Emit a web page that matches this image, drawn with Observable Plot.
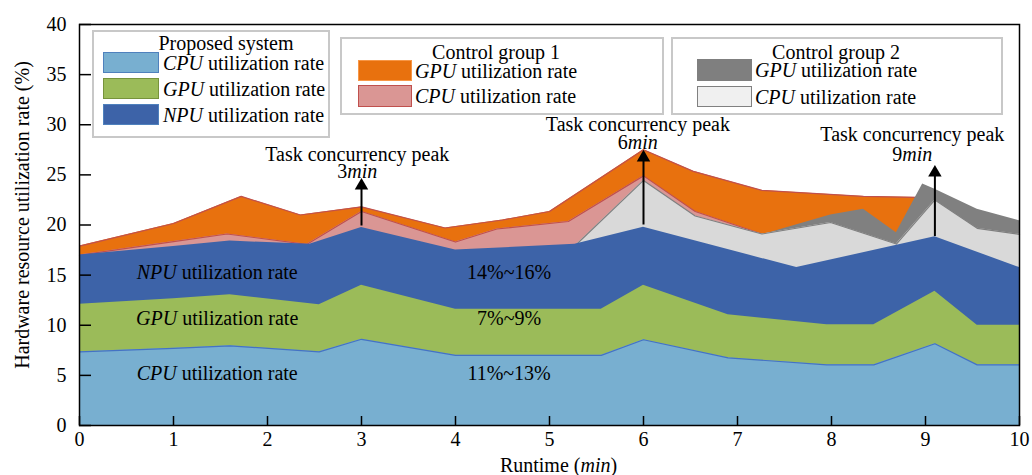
<!DOCTYPE html>
<html>
<head>
<meta charset="utf-8">
<script src="https://cdn.jsdelivr.net/npm/d3@7"></script>
<script src="https://cdn.jsdelivr.net/npm/@observablehq/plot@0.6"></script>
<style>
  html, body { margin: 0; padding: 0; background: white; }
  #wrap { position: relative; width: 1032px; height: 475px; font-family: "Liberation Serif", "Times New Roman", serif; color: #000; }
  .box { position: absolute; border: 2px solid #c8c8c8; box-sizing: border-box; background: white; }
  .lt { position: absolute; font-size: 20px; line-height: 22px; white-space: nowrap; }
  .sw { position: absolute; box-sizing: border-box; }
</style>
</head>
<body>
<div id="wrap"></div>
<script>
// ---- data (top boundary of each layer, %) ----
const xTicks = [0,1,2,3,4,5,6,7,8,9,10];
const yTicks = [0,5,10,15,20,25,30,35,40];

// Proposed system (stacked tops)
const cpuX = [0, 1, 1.6, 2.55, 3, 4, 5.55, 6, 6.9, 7.95, 8.45, 9.1, 9.55, 10];
const cpuTop = [7.35, 7.7, 7.95, 7.35, 8.6, 7.0, 7.0, 8.55, 6.75, 6.05, 6.05, 8.15, 6.05, 6.05];
const gpuX = [0, 1, 1.6, 2.55, 3, 4, 5.55, 6, 6.9, 7.95, 8.45, 9.1, 9.55, 10];
const gpuTop = [12.1, 12.65, 13.05, 12.05, 14.0, 11.6, 11.6, 14.0, 11.05, 10.05, 10.05, 13.4, 10.0, 10.0];
const npuX = [0, 1, 1.6, 2.45, 3, 4, 5.27, 6, 7.63, 9.1, 10];
const npuTop = [17.0, 17.85, 18.4, 18.07, 19.75, 17.5, 18.07, 19.77, 15.75, 18.83, 15.75];

// Control group 1
const cg1CpuX = [0, 1, 1.57, 2.42, 3, 4, 4.44, 5.2, 6, 6.55, 7.26];
const cg1CpuTop = [17.0, 18.35, 19.1, 18.07, 21.35, 18.3, 19.6, 20.35, 24.9, 21.35, 19.1];
const cg1GpuX = [0, 1, 1.72, 2.35, 3, 3.89, 4.5, 5.0, 6, 6.53, 7.26, 8.34, 8.91];
const cg1GpuTop = [17.9, 20.15, 22.85, 21.0, 21.8, 19.7, 20.5, 21.35, 27.5, 25.35, 23.45, 22.85, 22.75];

// Control group 2
const cg2CpuX = [5.28, 6, 6.55, 7.26, 7.99, 8.69, 9.1, 9.55, 10];
const cg2CpuTop = [18.0, 24.45, 20.9, 19.1, 20.25, 18.1, 22.5, 19.67, 19.07];
const cg2GpuX = [7.26, 7.99, 8.34, 8.69, 8.97, 9.1, 9.55, 10];
const cg2GpuTop = [19.0, 21.0, 21.57, 19.23, 24.1, 23.57, 21.57, 20.43];

// Peaks
const peakX = [3, 6, 9.1];
const peakFrom = [19.9, 20.0, 18.85];
const peakTo = [24.7, 27.5, 26.0];
const peakLabelX = [2.955, 5.94, 8.86];
const peakTitleY = [27.05, 30.0, 29.0];
const peakTimeY = [25.35, 28.2, 27.05];
const peakTime = ["3min", "6min", "9min"];

// In-area labels
const layerNames = ["NPU utilization rate", "GPU utilization rate", "CPU utilization rate"];
const layerRanges = ["14%~16%", "7%~9%", "11%~13%"];
const layerLabelY = [15.3, 10.7, 5.2];
const nameX = 1.465, rangeX = 4.57;

const colors = {
  cpu: "#78afd0", gpu: "#9bbb59", npu: "#3d63a8",
  cg1Gpu: "#e8710e", cg1Cpu: "#da9694", cg2Gpu: "#808080", cg2Cpu: "#d9d9d9"
};

const zip = (xs, ys) => xs.map((x, i) => ({x, y: ys[i]}));
const peaks = peakX.map((x, i) => ({x, from: peakFrom[i], to: peakTo[i], lx: peakLabelX[i], ty: peakTitleY[i], my: peakTimeY[i], t: peakTime[i]}));
const labels = layerNames.map((n, i) => ({n, r: layerRanges[i], y: layerLabelY[i]}));

const plot = Plot.plot({
  width: 1032, height: 475,
  marginLeft: 79, marginRight: 13, marginTop: 24, marginBottom: 50,
  x: {domain: [0, 10]},
  y: {domain: [0, 40]},
  style: {fontFamily: "Liberation Serif, Times New Roman, serif", fontSize: "20px", color: "black", background: "white"},
  marks: [
    Plot.areaY(zip(cg1GpuX, cg1GpuTop), {x: "x", y: "y", fill: colors.cg1Gpu}),
    Plot.lineY(zip(cg1GpuX, cg1GpuTop), {x: "x", y: "y", stroke: "#c0504d", strokeWidth: 1.2}),
    Plot.areaY(zip(cg1CpuX, cg1CpuTop), {x: "x", y: "y", fill: colors.cg1Cpu}),
    Plot.lineY(zip(cg1CpuX, cg1CpuTop), {x: "x", y: "y", stroke: "#c0504d", strokeWidth: 1.2}),
    Plot.areaY(zip(cg2GpuX, cg2GpuTop), {x: "x", y: "y", fill: colors.cg2Gpu}),
    Plot.areaY(zip(cg2CpuX, cg2CpuTop), {x: "x", y: "y", fill: colors.cg2Cpu}),
    Plot.lineY(zip(cg2CpuX, cg2CpuTop), {x: "x", y: "y", stroke: "#7f7f7f", strokeWidth: 1.2}),
    Plot.areaY(zip(npuX, npuTop), {x: "x", y: "y", fill: colors.npu}),
    Plot.areaY(zip(gpuX, gpuTop), {x: "x", y: "y", fill: colors.gpu}),
    Plot.areaY(zip(cpuX, cpuTop), {x: "x", y: "y", fill: colors.cpu}),
    Plot.lineY(zip(cpuX, cpuTop), {x: "x", y: "y", stroke: "#4472c4", strokeWidth: 1.2}),
    // peak arrows
    Plot.ruleX(peaks, {x: "x", y1: "from", y2: d => d.to - 0.8, stroke: "black", strokeWidth: 2}),
    Plot.dot(peaks, {x: "x", y: d => d.to - 0.78, symbol: "triangle", r: 5, fill: "black", stroke: "none"}),
    Plot.text(peaks, {x: "lx", y: "ty", text: () => "Task concurrency peak", fill: "black", fontSize: 20, lineAnchor: "middle"}),
    Plot.text(peaks, {x: "lx", y: "my", text: "t", fill: "black", fontSize: 20, lineAnchor: "middle"}),
    // layer labels
    Plot.text(labels, {x: () => nameX, y: "y", text: "n", fill: "black", fontSize: 20, lineAnchor: "middle"}),
    Plot.text(labels, {x: () => rangeX, y: "y", text: "r", fill: "black", fontSize: 20, lineAnchor: "middle"}),
    // axes
    Plot.axisY({ticks: yTicks, tickSize: 0, tickPadding: 13, label: null, fontSize: 20}),
    Plot.axisY({ticks: yTicks, tickSize: -12, tickFormat: () => "", label: null, strokeWidth: 1.5}),
    Plot.axisX({ticks: xTicks, tickSize: 0, tickPadding: 6, label: null, fontSize: 20}),
    Plot.axisX({ticks: xTicks, tickSize: -9, tickFormat: () => "", label: null, strokeWidth: 1.5}),
    Plot.frame({stroke: "black", strokeWidth: 1.5}),
    Plot.text(["Runtime (min)"], {frameAnchor: "bottom", dx: 9, dy: 40, lineAnchor: "middle", textAnchor: "middle", fill: "black", fontSize: 20}),
    Plot.text(["Hardware resource utilization rate (%)"], {frameAnchor: "left", rotate: -90, dx: -57, dy: -10, lineAnchor: "middle", textAnchor: "middle", fill: "black", fontSize: 20})
  ]
});

// italicize variable names
function italicize(svg) {
  svg.querySelectorAll("text").forEach(t => {
    [...t.childNodes].filter(n => n.nodeType === 3).forEach(node => {
      const parts = node.textContent.split(/(CPU|GPU|NPU|min(?=\)|$))/);
      if (parts.length === 1) return;
      const frag = document.createDocumentFragment();
      parts.forEach(p => {
        if (!p) return;
        const ts = document.createElementNS("http://www.w3.org/2000/svg", "tspan");
        ts.textContent = p;
        if (/^(CPU|GPU|NPU|min)$/.test(p)) ts.setAttribute("font-style", "italic");
        frag.appendChild(ts);
      });
      node.replaceWith(frag);
    });
  });
}
italicize(plot);

const wrap = document.getElementById("wrap");
wrap.appendChild(plot);

// ---- legends (HTML overlay) ----
const legends = [
  {box: [92, 30, 238, 108], title: "Proposed system", tcx: 226, tcy: 42.5, swx: 103, sww: 56, labx: 163,
   items: [
     {k: "CPU", fill: colors.cpu, border: "#4f81bd", top: 52, h: 21, cy: 62.5},
     {k: "GPU", fill: colors.gpu, border: "#77933c", top: 78, h: 21, cy: 88.5},
     {k: "NPU", fill: colors.npu, border: "#4f81bd", top: 104, h: 21, cy: 115}
   ]},
  {box: [340, 37, 324, 78], title: "Control group 1", tcx: 496, tcy: 51.5, swx: 358, sww: 54, labx: 415,
   items: [
     {k: "GPU", fill: colors.cg1Gpu, border: "#f79646", top: 60, h: 21, cy: 70.5},
     {k: "CPU", fill: colors.cg1Cpu, border: "#c0504d", top: 85, h: 22, cy: 96}
   ]},
  {box: [671, 37, 332, 78], title: "Control group 2", tcx: 836, tcy: 51.5, swx: 697, sww: 55, labx: 755,
   items: [
     {k: "GPU", fill: "#7f7f7f", border: "#7f7f7f", top: 59, h: 22, cy: 70},
     {k: "CPU", fill: "#f0f0f0", border: "#808080", top: 86, h: 21, cy: 96.5}
   ]}
];
legends.forEach(L => {
  const b = document.createElement("div");
  b.className = "box";
  Object.assign(b.style, {left: L.box[0] + "px", top: L.box[1] + "px", width: L.box[2] + "px", height: L.box[3] + "px"});
  wrap.appendChild(b);
  const t = document.createElement("div");
  t.className = "lt";
  t.textContent = L.title;
  wrap.appendChild(t);
  const w = t.getBoundingClientRect().width;
  Object.assign(t.style, {left: (L.tcx - w / 2) + "px", top: (L.tcy - 11) + "px"});
  L.items.forEach(it => {
    const s = document.createElement("div");
    s.className = "sw";
    Object.assign(s.style, {left: L.swx + "px", top: it.top + "px", width: L.sww + "px", height: it.h + "px",
      background: it.fill, border: "1.5px solid " + it.border});
    wrap.appendChild(s);
    const l = document.createElement("div");
    l.className = "lt";
    l.innerHTML = "<i>" + it.k + "</i> utilization rate";
    Object.assign(l.style, {left: L.labx + "px", top: (it.cy - 11) + "px"});
    wrap.appendChild(l);
  });
});
</script>
</body>
</html>
